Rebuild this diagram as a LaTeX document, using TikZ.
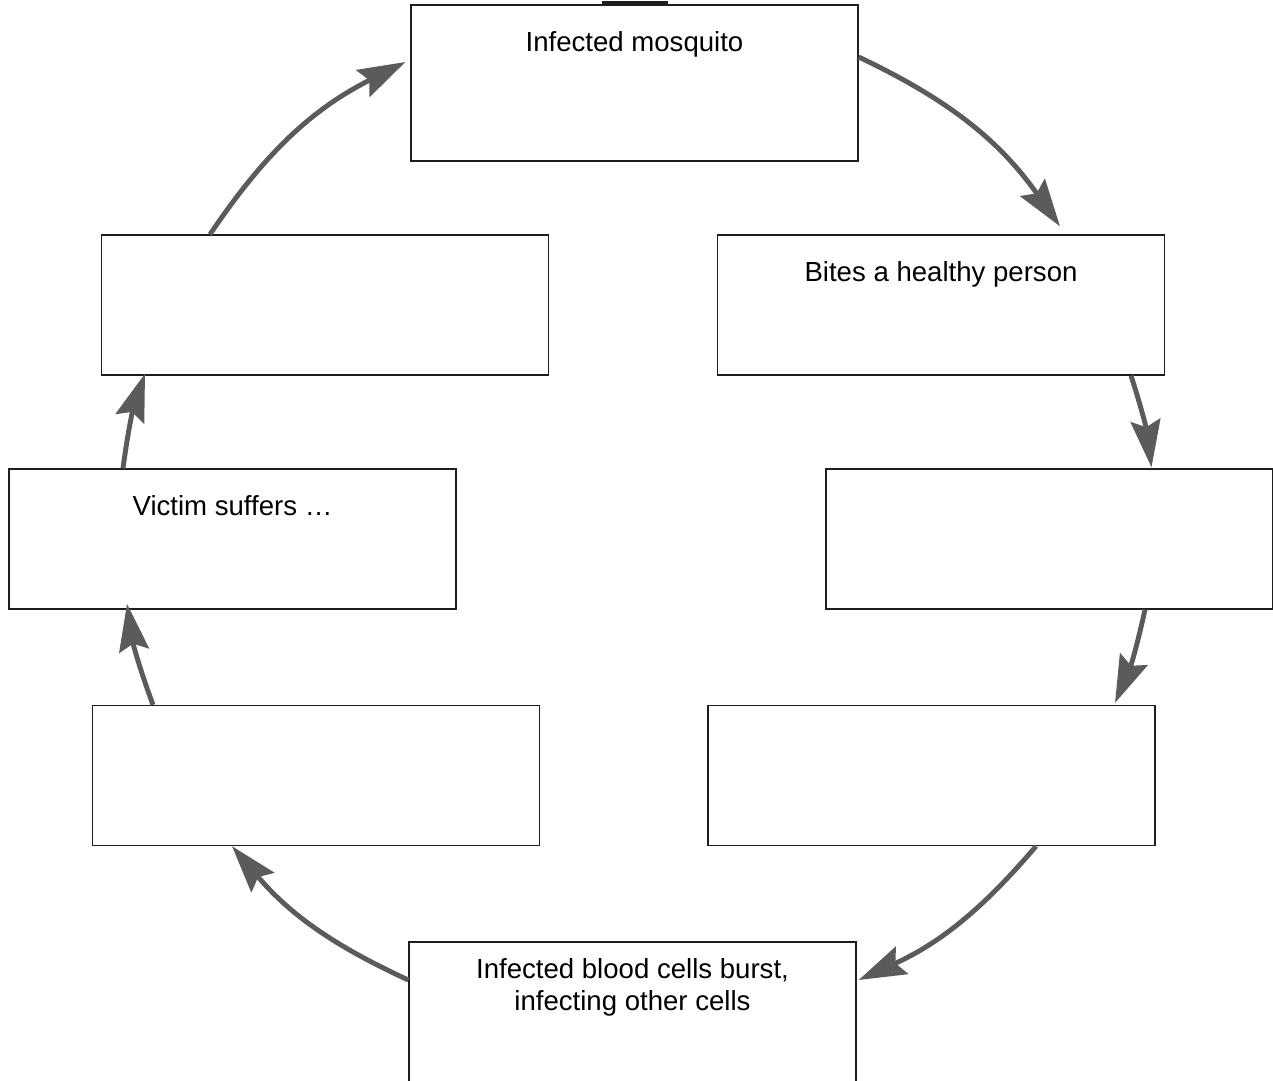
\documentclass[tikz,border=0pt]{standalone}
\usepackage{fontspec}
\setmainfont{Liberation Sans}
\usetikzlibrary{arrows.meta,calc}
\definecolor{arrowgray}{HTML}{5B5B5B}
\definecolor{boxline}{HTML}{1E1E1E}
\begin{document}
\begin{tikzpicture}[x=0.02cm,y=-0.02cm,
  stagebox/.style={draw=boxline,line width=0.75pt,fill=white,
    minimum width=8.94cm,minimum height=2.8cm,inner sep=0pt},
  stagetext/.style={anchor=base,inner sep=0pt,align=center,
    font=\fontsize{15.7}{18.1}\selectfont},
  cyclearrow/.style={draw=arrowgray,line width=2.8pt,
    -{Stealth[length=27pt,width=17pt,inset=4pt]}},
  ringline/.style={draw=boxline,line width=1.6pt,line cap=butt}]
\useasboundingbox (0,0) rectangle (1273,1080);

% top of the ring, peeking out above the first stage
\coordinate (ringL) at (602,2.5);
\coordinate (ringR) at (668,2.5);
\draw[ringline] (ringL) -- (ringR);

% stages of the cycle
\node[stagebox,minimum height=3.12cm] (b1) at (634.5,83) {};
\node[stagebox] (b2) at (941,305) {};
\node[stagebox] (b3) at (1049.5,539) {};
\node[stagebox] (b4) at (931.5,775.5) {};
\node[stagebox] (b5) at (632.5,1012) {};
\node[stagebox] (b6) at (316,775.5) {};
\node[stagebox] (b7) at (232.5,539) {};
\node[stagebox] (b8) at (325,305) {};

% labels (a two-line label sits on the baseline of its last line)
\node[stagetext] (t1) at ($(b1.north)+(0,47)$) {Infected mosquito};
\node[stagetext] (t2) at ($(b2.north)+(0,47)$) {Bites a healthy person};
\node[stagetext] (t5) at ($(b5.north)+(0,69)$) {Infected blood cells burst,\\infecting other cells};
\node[stagetext] (t7) at ($(b7.north)+(0,47)$) {Victim suffers …};

% arrows around the cycle
\draw[cyclearrow] ($(b1.east)+(0,-26)$) to[bend left=14.7] ($(b2.north)+(119,-8)$);
\draw[cyclearrow] ($(b2.south)+(190,0)$) to[bend left=5.3] ($(b3.north)+(102,-1)$);
\draw[cyclearrow] ($(b3.south)+(95.5,0)$) to[bend left=5.5] ($(b4.north)+(183.5,-2)$);
\draw[cyclearrow] ($(b4.south)+(104.5,0)$) to[bend left=12.6] ($(b5.east)+(2,-32)$);
\draw[cyclearrow] ($(b5.west)+(0,-32)$) to[bend left=12.5] ($(b6.south)+(-84,0)$);
\draw[cyclearrow] ($(b6.north)+(-163,0)$) to[bend left=5.8] ($(b7.south)+(-105.5,-6)$);
\draw[cyclearrow] ($(b7.north)+(-109.5,0)$) to[bend left=5.5] ($(b8.south)+(-180,-2)$);
\draw[cyclearrow] ($(b8.north)+(-115,0)$) to[bend left=14.6] ($(b1.west)+(-5,-21)$);
\end{tikzpicture}
\end{document}
